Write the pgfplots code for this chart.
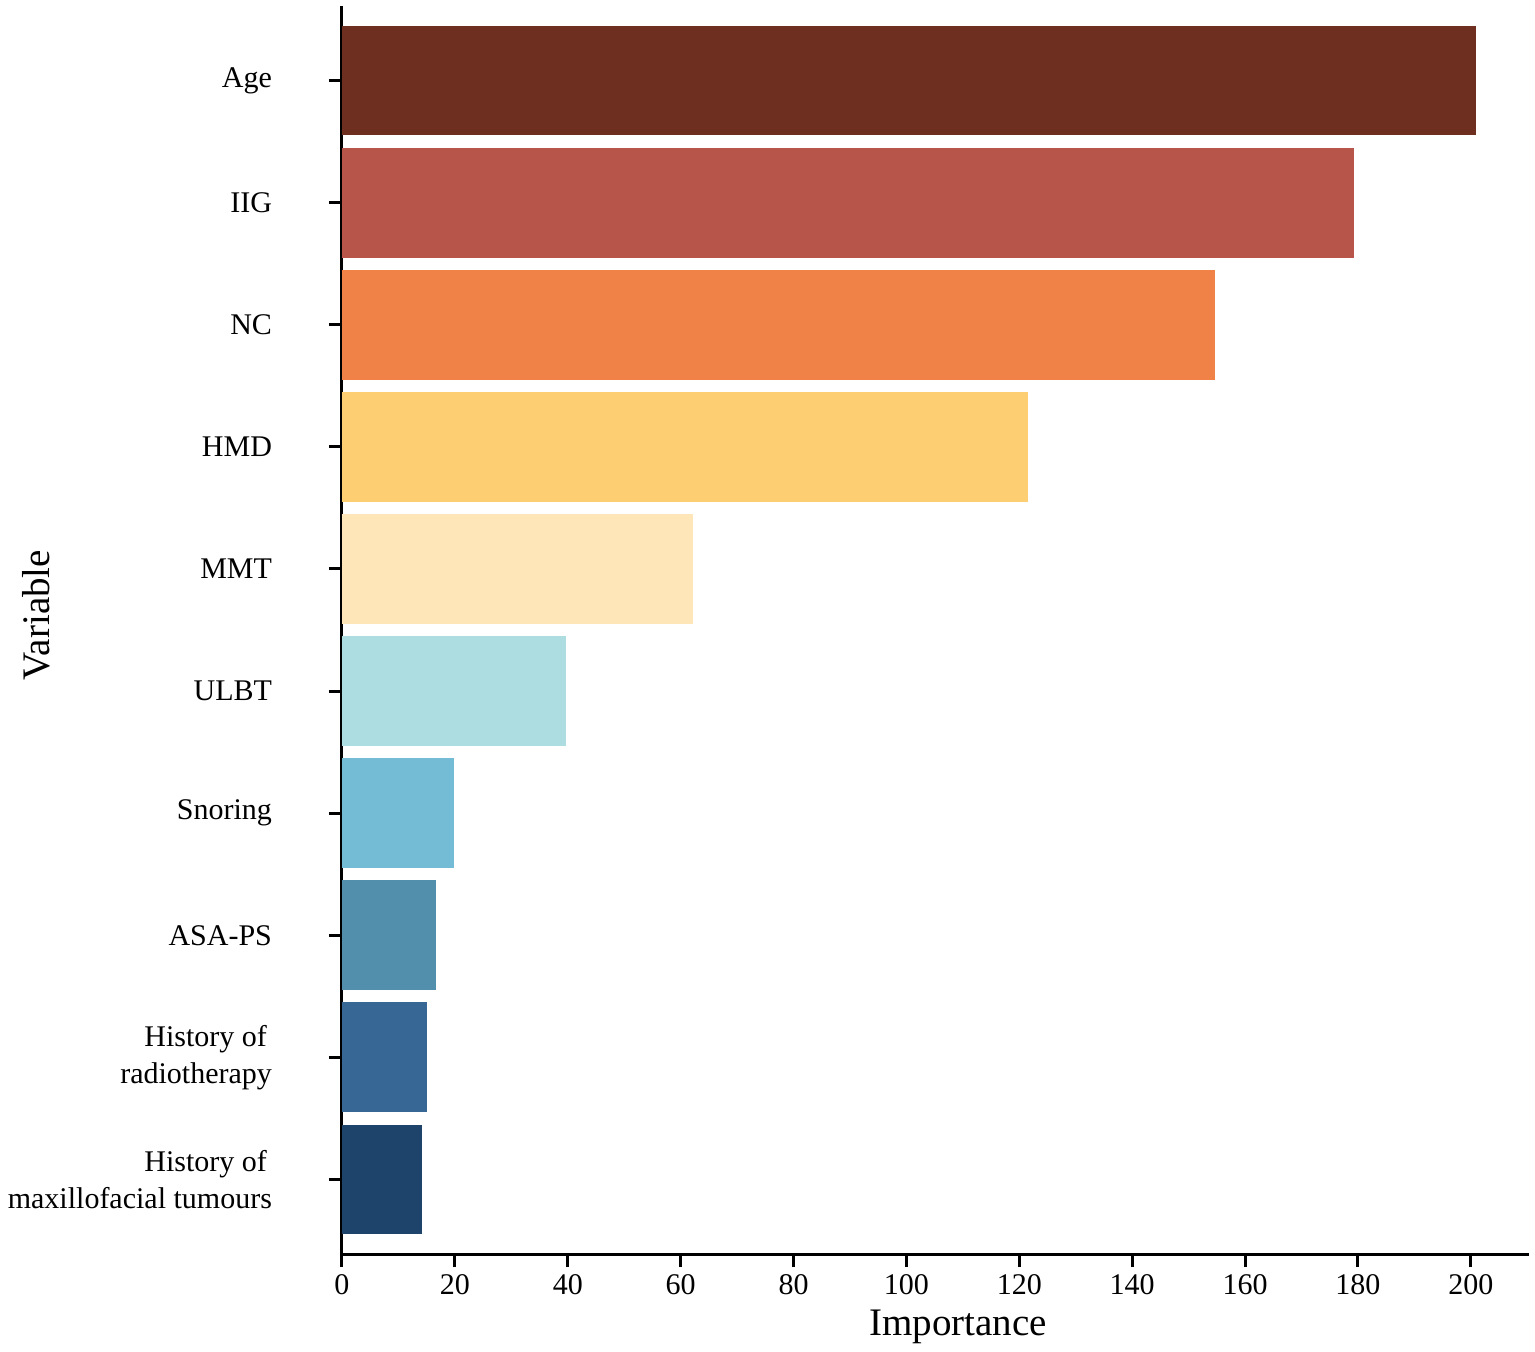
\documentclass[border=0pt]{standalone}
\usepackage{pgfplots}
\pgfplotsset{compat=1.18}
\usepackage{fontspec}
\setmainfont{Liberation Serif}
\definecolor{cA}{RGB}{110,46,32}
\definecolor{cB}{RGB}{184,85,74}
\definecolor{cC}{RGB}{240,130,72}
\definecolor{cD}{RGB}{254,206,114}
\definecolor{cE}{RGB}{254,230,184}
\definecolor{cF}{RGB}{173,221,224}
\definecolor{cG}{RGB}{116,187,213}
\definecolor{cH}{RGB}{82,143,173}
\definecolor{cI}{RGB}{55,103,149}
\definecolor{cJ}{RGB}{31,68,108}
\begin{document}
\begin{tikzpicture}
\begin{axis}[
  at={(0,0)}, anchor=south west,
  scale only axis,
  width=593.5pt, height=624pt,
  xbar, bar shift=0pt, bar width=0.9,
  xmin=0, xmax=210.3,
  ymin=-0.61, ymax=9.61,
  y dir=reverse,
  axis x line*=bottom, axis y line*=left,
  axis line style={line width=1.5pt, black, -},
  tick align=outside,
  major tick length=6.5pt,
  every tick/.style={line width=1.5pt, black},
  xtick={0,20,...,200},
  ytick={0,1,...,9},
  yticklabels={Age,IIG,NC,HMD,MMT,ULBT,Snoring,ASA-PS,{History of\hspace*{2.5pt}\\radiotherapy},{History of\hspace*{2.5pt}\\maxillofacial tumours}},
  /pgf/number format/assume math mode=true,
  tick label style={font=\fontsize{15}{18.5}\selectfont},
  yticklabel style={align=right, xshift=-25pt},
  xlabel={Importance},
  ylabel={Variable},
  xlabel style={at={(axis description cs:0.519,-0.0649)}, anchor=base, font=\fontsize{19.5}{22}\selectfont},
  ylabel style={at={(axis description cs:-0.246,0.512)}, anchor=base, rotate=0, font=\fontsize{19.5}{22}\selectfont},
]
\addplot[fill=cA, draw=none] coordinates {(200.9,0)};
\addplot[fill=cB, draw=none] coordinates {(179.3,1)};
\addplot[fill=cC, draw=none] coordinates {(154.7,2)};
\addplot[fill=cD, draw=none] coordinates {(121.5,3)};
\addplot[fill=cE, draw=none] coordinates {(62.2,4)};
\addplot[fill=cF, draw=none] coordinates {(39.6,5)};
\addplot[fill=cG, draw=none] coordinates {(19.8,6)};
\addplot[fill=cH, draw=none] coordinates {(16.7,7)};
\addplot[fill=cI, draw=none] coordinates {(15.0,8)};
\addplot[fill=cJ, draw=none] coordinates {(14.2,9)};
\end{axis}
\pgfresetboundingbox
\useasboundingbox (-171pt,-49pt) rectangle (596.5pt,627pt);
\end{tikzpicture}
\end{document}
